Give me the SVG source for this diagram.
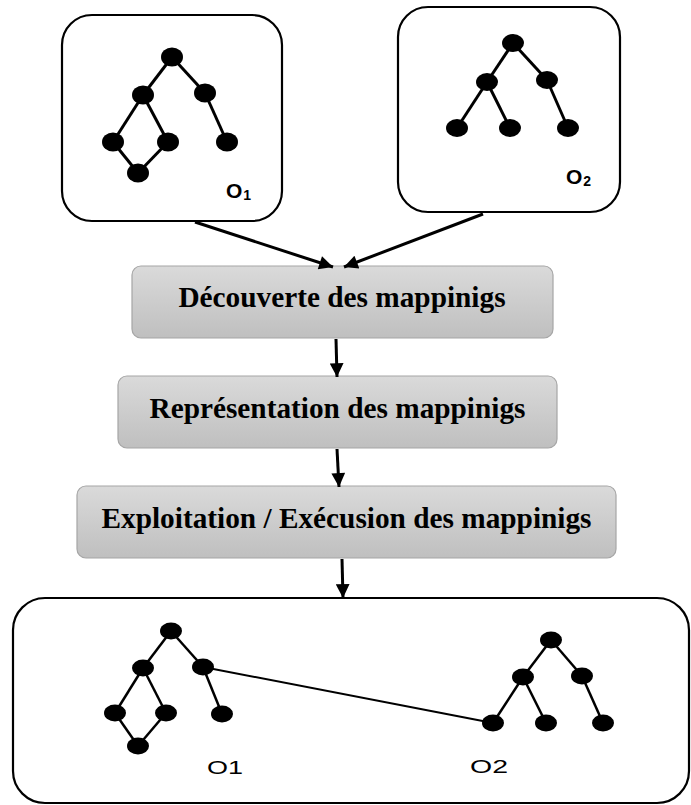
<svg xmlns="http://www.w3.org/2000/svg" width="691" height="805" viewBox="0 0 691 805">
<defs>
<linearGradient id="g" x1="0" y1="0" x2="0" y2="1">
<stop offset="0" stop-color="#dadada"/>
<stop offset="1" stop-color="#bfbfbf"/>
</linearGradient>
<marker id="ah" viewBox="0 0 10 10" refX="10" refY="5" markerWidth="5.3" markerHeight="4.6" markerUnits="strokeWidth" orient="auto">
<path d="M0,0 L10,5 L0,10 z" fill="#000"/>
</marker>
<style>
.frame{fill:#fff;stroke:#000;stroke-width:2.2}
.step{fill:url(#g);stroke:#a6a6a6;stroke-width:1.2}
.lbl{font-family:"Liberation Serif","Times New Roman",serif;font-weight:bold;font-size:29.3px;fill:#000;text-anchor:middle}
.tag{font-family:"Liberation Sans",Arial,sans-serif;font-weight:bold;font-size:21px;fill:#000}
.tag2{font-family:"Liberation Sans",Arial,sans-serif;font-size:18px;fill:#000}
.e{stroke:#000;stroke-width:3;fill:none}
.e2{stroke:#000;stroke-width:2.5;fill:none}
.n{fill:#000}
.conn{stroke:#000;stroke-width:3;fill:none;marker-end:url(#ah)}
</style>
</defs>

<g id="o1">
<rect class="frame" x="62" y="15" width="220" height="206" rx="30"/>
<g class="e">
<line x1="172" y1="57" x2="143" y2="95"/>
<line x1="172" y1="57" x2="205" y2="93"/>
<line x1="143" y1="95" x2="113" y2="142"/>
<line x1="143" y1="95" x2="168" y2="142"/>
<line x1="205" y1="93" x2="227" y2="142"/>
<line x1="113" y1="142" x2="138" y2="173"/>
<line x1="168" y1="142" x2="138" y2="173"/>
</g>
<g class="n">
<ellipse cx="172" cy="57" rx="11" ry="9.5"/>
<ellipse cx="143" cy="95" rx="11" ry="9.5"/>
<ellipse cx="205" cy="93" rx="11" ry="9.5"/>
<ellipse cx="113" cy="142" rx="11" ry="9.5"/>
<ellipse cx="168" cy="142" rx="11" ry="9.5"/>
<ellipse cx="227" cy="142" rx="11" ry="9.5"/>
<ellipse cx="138" cy="173" rx="11" ry="9.5"/>
</g>
<text class="tag" x="226" y="198">O<tspan font-size="14" dx="1" dy="2">1</tspan></text>
</g>

<g id="o2">
<rect class="frame" x="398" y="7" width="222" height="205" rx="30"/>
<g class="e">
<line x1="513" y1="43" x2="487" y2="82"/>
<line x1="513" y1="43" x2="547" y2="80"/>
<line x1="487" y1="82" x2="457" y2="128"/>
<line x1="487" y1="82" x2="510" y2="128"/>
<line x1="547" y1="80" x2="568" y2="128"/>
</g>
<g class="n">
<ellipse cx="513" cy="43" rx="11" ry="9"/>
<ellipse cx="487" cy="82" rx="11" ry="9"/>
<ellipse cx="547" cy="80" rx="11" ry="9"/>
<ellipse cx="457" cy="128" rx="11" ry="9"/>
<ellipse cx="510" cy="128" rx="11" ry="9"/>
<ellipse cx="568" cy="128" rx="11" ry="9"/>
</g>
<text class="tag" x="566" y="184">O<tspan font-size="14" dx="1" dy="2">2</tspan></text>
</g>

<g id="decouverte">
<rect class="step" x="132" y="266" width="421" height="72" rx="9"/>
<text class="lbl" x="342" y="306.5">Découverte des mappinigs</text>
</g>

<g id="representation">
<rect class="step" x="118" y="376" width="439" height="72" rx="9"/>
<text class="lbl" x="337.5" y="418">Représentation des mappinigs</text>
</g>

<g id="exploitation">
<rect class="step" x="77" y="486" width="539" height="72" rx="9"/>
<text class="lbl" x="346.5" y="527.5">Exploitation / Exécusion des mappinigs</text>
</g>

<g id="resultat">
<rect class="frame" x="13" y="598" width="676" height="205" rx="32"/>
<line x1="203" y1="667" x2="493" y2="723" stroke="#000" stroke-width="2"/>
<g class="e2">
<line x1="171" y1="631" x2="143" y2="668"/>
<line x1="171" y1="631" x2="203" y2="667"/>
<line x1="143" y1="668" x2="115" y2="713"/>
<line x1="143" y1="668" x2="166" y2="713"/>
<line x1="203" y1="667" x2="222" y2="714"/>
<line x1="115" y1="713" x2="138" y2="746"/>
<line x1="166" y1="713" x2="138" y2="746"/>
<line x1="551" y1="640" x2="523" y2="677"/>
<line x1="551" y1="640" x2="582" y2="676"/>
<line x1="523" y1="677" x2="493" y2="723"/>
<line x1="523" y1="677" x2="546" y2="723"/>
<line x1="582" y1="676" x2="603" y2="723"/>
</g>
<g class="n">
<ellipse cx="171" cy="631" rx="11" ry="8.5"/>
<ellipse cx="143" cy="668" rx="11" ry="8.5"/>
<ellipse cx="203" cy="667" rx="11" ry="8.5"/>
<ellipse cx="115" cy="713" rx="11" ry="8.5"/>
<ellipse cx="166" cy="713" rx="11" ry="8.5"/>
<ellipse cx="222" cy="714" rx="11" ry="8.5"/>
<ellipse cx="138" cy="746" rx="11" ry="8.5"/>
<ellipse cx="551" cy="640" rx="11" ry="8.5"/>
<ellipse cx="523" cy="677" rx="11" ry="8.5"/>
<ellipse cx="582" cy="676" rx="11" ry="8.5"/>
<ellipse cx="493" cy="723" rx="11" ry="8.5"/>
<ellipse cx="546" cy="723" rx="11" ry="8.5"/>
<ellipse cx="603" cy="723" rx="11" ry="8.5"/>
</g>
<text class="tag2" x="207" y="774" textLength="36" lengthAdjust="spacingAndGlyphs">O1</text>
<text class="tag2" x="470" y="773" textLength="38" lengthAdjust="spacingAndGlyphs">O2</text>
</g>

<g id="connectors">
<line class="conn" x1="195" y1="222" x2="333" y2="267"/>
<line class="conn" x1="483" y1="214" x2="344" y2="267"/>
<line class="conn" x1="336" y1="339" x2="337" y2="377"/>
<line class="conn" x1="337" y1="449" x2="339" y2="487"/>
<line class="conn" x1="342" y1="559" x2="343" y2="598"/>
</g>
</svg>
